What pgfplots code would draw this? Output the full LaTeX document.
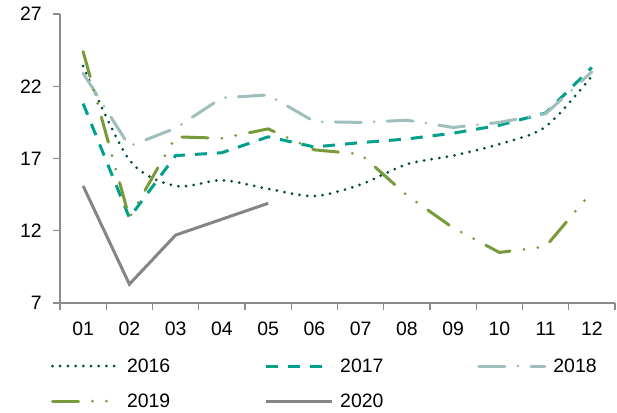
\documentclass[border=0pt]{standalone}
\usepackage{fontspec}
\setmainfont{Liberation Sans}
\usepackage{pgfplots}
\pgfplotsset{compat=1.18}
\definecolor{c2016}{HTML}{00493D}
\definecolor{c2017}{HTML}{00A08C}
\definecolor{c2018}{HTML}{9EBFBC}
\definecolor{c2019}{HTML}{789A3A}
\definecolor{c2020}{HTML}{858585}
\definecolor{axgray}{HTML}{8C8C8C}
\begin{document}
\begin{tikzpicture}
\begin{axis}[
  at={(0,0)}, anchor=south west,
  scale only axis, width=555bp, height=289bp,
  xmin=0.5, xmax=12.5, ymin=7, ymax=27,
  axis lines*=left,
  axis line style={axgray, line width=1.3bp},
  tick style={axgray, line width=1.3bp},
  tick align=outside, major tick length=7bp,
  xtick={0.5,1.5,...,12.5},
  xticklabels={01,02,03,04,05,06,07,08,09,10,11,12,{}},
  xticklabel style={xshift=23.125bp, inner sep=0pt, yshift=-12bp},
  ytick={7,12,17,22,27},
  yticklabel style={inner sep=0pt, xshift=-11bp},
  /pgf/number format/assume math mode=true,
  font=\fontsize{19.5}{23}\selectfont,
  tick label style={font=\fontsize{19.5}{23}\selectfont},
  legend columns=3,
  legend cell align=left,
  legend image code/.code={\draw[#1] (0bp,0bp) -- (66bp,0bp);},
  legend style={draw=none, fill=none, inner sep=0pt, outer sep=0pt,
    at={(axis description cs:-0.0162,-0.192)}, anchor=north west,
    nodes={inner sep=0pt},
    font=\fontsize{19.5}{23}\selectfont,
    /tikz/every odd column/.append style={column sep=7bp},
    /tikz/every even column/.append style={column sep=94bp},
    /tikz/row sep=20bp},
  every axis plot/.append style={line width=3bp},
  clip=false,
]
\addplot[c2016, line cap=round, dash pattern=on 0bp off 7.7bp, smooth, tension=0.5] coordinates {
 (1,23.4) (2,16.9) (3,15.1) (4,15.5) (5,14.9) (6,14.4) (7,15.2) (8,16.6) (9,17.2) (10,18.0) (11,19.2) (12,22.7)};
\addlegendentry{2016}
\addplot[c2017, dash pattern=on 12bp off 10bp] coordinates {
 (1,20.8) (2,12.9) (3,17.2) (4,17.4) (5,18.5) (6,17.8) (7,18.1) (8,18.35) (9,18.75) (10,19.3) (11,20.15) (12,23.3)};
\addlegendentry{2017}
\addplot[c2018, line cap=round, dash pattern=on 26bp off 13bp on 0bp off 13bp] coordinates {
 (1,22.9) (2,17.85) (3,19.1) (4,21.2) (5,21.4) (6,19.55) (7,19.5) (8,19.65) (9,19.15) (10,19.5) (11,20.1) (12,23.0)};
\addlegendentry{2018}
\addplot[c2019, line cap=round, dash pattern=on 26bp off 14bp on 0bp off 14bp on 0bp off 14bp] coordinates {
 (1,24.4) (2,12.9) (3,18.5) (4,18.4) (5,19.05) (6,17.6) (7,17.3) (8,14.45) (9,12.2) (10,10.5) (11,10.9) (12,14.7)};
\addlegendentry{2019}
\addplot[c2020] coordinates {
 (1,15.1) (2,8.3) (3,11.7) (4,12.8) (5,13.9)};
\addlegendentry{2020}
\end{axis}
\pgfresetboundingbox
\path[use as bounding box] (-60bp,-110bp) rectangle (557bp,303bp);
\end{tikzpicture}
\end{document}
